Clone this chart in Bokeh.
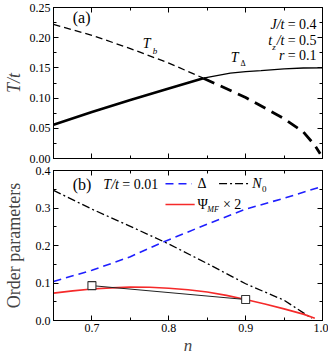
import numpy as np
from bokeh.plotting import figure
from bokeh.layouts import column
from bokeh.models import FixedTicker, LinearAxis, Range1d, Label, CustomLabelingPolicy
from bokeh.embed import file_html
from bokeh.resources import INLINE

# ---------------- data: panel (a) ----------------
n_tb = [0.65, 0.70, 0.75, 0.80, 0.845, 0.90, 0.95, 0.975, 0.99, 0.997]
t_b = [0.222, 0.204, 0.182, 0.158, 0.133, 0.101, 0.066, 0.044, 0.022, 0.008]
n_td = [0.65, 0.70, 0.75, 0.80, 0.845, 0.88, 0.90, 0.92, 0.95, 0.975, 1.0]
t_d = [0.056, 0.077, 0.097, 0.116, 0.133, 0.1414, 0.144, 0.1456, 0.1485, 0.1498, 0.150]
n_cross = 0.845

# ---------------- data: panel (b) ----------------
n_delta = [0.65, 0.70, 0.75, 0.79, 0.85, 0.90, 0.95, 1.0]
delta = [0.104, 0.134, 0.170, 0.207, 0.257, 0.297, 0.326, 0.358]
n_n0 = [0.65, 0.70, 0.75, 0.80, 0.85, 0.90, 0.95, 0.986]
n0 = [0.347, 0.297, 0.251, 0.204, 0.152, 0.098, 0.054, 0.006]
n_psi = [0.65, 0.675, 0.70, 0.725, 0.75, 0.775, 0.80, 0.825, 0.85, 0.875,
         0.90, 0.925, 0.95, 0.975, 0.99]
psi2 = [0.073, 0.079, 0.084, 0.087, 0.089, 0.0885, 0.086, 0.082, 0.076, 0.067,
        0.056, 0.044, 0.031, 0.017, 0.006]
n_sq = [0.70, 0.90]
psi_sq = [0.093, 0.056]

# ---------------- ticks ----------------
x_ticks = [0.7, 0.8, 0.9, 1.0]
x_tick_labels = ["0.7", "0.8", "0.9", "1.0"]
x_minor = [0.65, 0.75, 0.85, 0.95]
ya_ticks = [0.0, 0.05, 0.10, 0.15, 0.20, 0.25]
ya_tick_labels = ["0.00", "0.05", "0.10", "0.15", "0.20", "0.25"]
ya_minor = [0.025, 0.075, 0.125, 0.175, 0.225]
yb_ticks = [0.0, 0.1, 0.2, 0.3, 0.4]
yb_tick_labels = ["0.0", "0.1", "0.2", "0.3", "0.4"]
yb_minor = [0.05, 0.15, 0.25, 0.35]

FONT = "Liberation Serif"
W = 328
LEFT = 46
RIGHT = 6
NO_LABELS = "for (const i of Array.from(indices)) indices.unset(i); return indices"


def style_axis(ax, ticks, minor, labels=None):
    ax.ticker = FixedTicker(ticks=ticks, minor_ticks=minor)
    ax.axis_line_color = "black"
    ax.major_tick_line_color = "black"
    ax.minor_tick_line_color = "black"
    ax.major_tick_in = 5
    ax.major_tick_out = 0
    ax.minor_tick_in = 3
    ax.minor_tick_out = 0
    ax.major_label_text_font = FONT
    ax.axis_label_text_font = FONT
    if labels is None:
        ax.major_label_text_font_size = "0px"
        ax.major_label_standoff = 0
        ax.major_label_policy = CustomLabelingPolicy(code=NO_LABELS)
    else:
        ax.major_label_overrides = {t: l for t, l in zip(ticks, labels)}
        ax.major_label_text_font_size = "12px"
        ax.major_label_text_color = "black"
        ax.major_label_standoff = 3


def lab(p, x, y, text, size="14px", style="normal", align="left", baseline="middle"):
    p.add_layout(Label(x=x, y=y, text=text, text_font=FONT, text_font_size=size,
                       text_font_style=style, text_align=align,
                       text_baseline=baseline, text_color="black"))


def seg(xs, ys, lo, hi):
    pts = [(x, y) for x, y in zip(xs, ys) if lo <= x <= hi]
    return [q[0] for q in pts], [q[1] for q in pts]


# ================= panel (a) =================
p1 = figure(width=W, height=164, output_backend="svg", toolbar_location=None,
            x_range=Range1d(0.65, 1.0), y_range=Range1d(0.0, 0.25),
            min_border_left=LEFT, min_border_right=RIGHT,
            min_border_top=7, min_border_bottom=6)
p1.grid.visible = False
p1.outline_line_color = "black"
style_axis(p1.xaxis[0], x_ticks, x_minor)
style_axis(p1.yaxis[0], ya_ticks, ya_minor, ya_tick_labels)
p1.yaxis[0].axis_label = "T/t"
p1.yaxis[0].axis_label_text_font_style = "italic"
p1.yaxis[0].axis_label_text_font_size = "18px"
p1.yaxis[0].axis_label_standoff = 3
ax = LinearAxis(); style_axis(ax, x_ticks, x_minor); p1.add_layout(ax, "above")
ax = LinearAxis(); style_axis(ax, ya_ticks, ya_minor); p1.add_layout(ax, "right")

x, y = seg(n_tb, t_b, 0, n_cross)
p1.line(x, y, line_color="black", line_width=1.3, line_dash="7 4")
x, y = seg(n_tb, t_b, n_cross, 1.0)
p1.line(x, y, line_color="black", line_width=2.8, line_dash="12 7")
x, y = seg(n_td, t_d, 0, n_cross)
p1.line(x, y, line_color="black", line_width=2.6)
x, y = seg(n_td, t_d, n_cross, 1.0)
p1.line(x, y, line_color="black", line_width=1.3)

lab(p1, 0.675, 0.233, "(a)", size="16px")
lab(p1, 0.766, 0.19, "T", style="italic")
lab(p1, 0.779, 0.178, "b", size="9px", style="italic")
lab(p1, 0.8806, 0.168, "T", style="italic")
lab(p1, 0.8933, 0.157, "Δ", size="8px")
lab(p1, 0.9505, 0.2214, "J/t", style="italic", align="right")
lab(p1, 0.9547, 0.2214, "= 0.4")
lab(p1, 0.9505, 0.196, "/t", style="italic", align="right")
lab(p1, 0.9346, 0.196, "t", style="italic", align="right")
lab(p1, 0.9346, 0.185, "z", size="9px", style="italic")
lab(p1, 0.9547, 0.196, "= 0.5")
lab(p1, 0.9505, 0.171, "r", style="italic", align="right")
lab(p1, 0.9547, 0.171, "= 0.1")

# ================= panel (b) =================
p2 = figure(width=W, height=193, output_backend="svg", toolbar_location=None,
            x_range=Range1d(0.65, 1.0), y_range=Range1d(0.0, 0.4),
            min_border_left=LEFT, min_border_right=RIGHT,
            min_border_top=6, min_border_bottom=6)
p2.grid.visible = False
p2.outline_line_color = "black"
style_axis(p2.xaxis[0], x_ticks, x_minor, x_tick_labels)
style_axis(p2.yaxis[0], yb_ticks, yb_minor, yb_tick_labels)
p2.xaxis[0].axis_label = "n"
p2.xaxis[0].axis_label_text_font_style = "italic"
p2.xaxis[0].axis_label_text_font_size = "17px"
p2.xaxis[0].axis_label_standoff = 1
p2.yaxis[0].axis_label = "Order parameters"
p2.yaxis[0].axis_label_text_font_style = "normal"
p2.yaxis[0].axis_label_text_font_size = "18px"
p2.yaxis[0].axis_label_standoff = 9
ax = LinearAxis(); style_axis(ax, x_ticks, x_minor); p2.add_layout(ax, "above")
ax = LinearAxis(); style_axis(ax, yb_ticks, yb_minor); p2.add_layout(ax, "right")

BLUE = "#1f1fff"
RED = "#f52a2a"
p2.line(n_delta, delta, line_color=BLUE, line_width=1.6, line_dash="8 5")
p2.line(n_n0, n0, line_color="black", line_width=1.3, line_dash="8 3 2 3")
p2.line(n_psi, psi2, line_color=RED, line_width=1.6)
p2.line(n_sq, psi_sq, line_color="#222222", line_width=1.0)
p2.scatter(n_sq, psi_sq, marker="square", size=8, fill_color="white",
           line_color="#333333", line_width=1.1)

# legend
lab(p2, 0.675, 0.362, "(b)", size="16px")
lab(p2, 0.7351, 0.362, "T/t", style="italic", align="right")
lab(p2, 0.7396, 0.362, "= 0.01")
p2.line([0.7957, 0.830], [0.3648, 0.3648], line_color=BLUE, line_width=1.6, line_dash="8 5")
lab(p2, 0.8374, 0.3648, "Δ")
p2.line([0.8654, 0.906], [0.3648, 0.3648], line_color="black", line_width=1.3, line_dash="8 3 2 3")
lab(p2, 0.9086, 0.3648, "N", style="italic")
lab(p2, 0.9213, 0.351, "0", size="9px")
p2.line([0.7957, 0.8337], [0.3094, 0.3094], line_color=RED, line_width=1.6)
lab(p2, 0.8374, 0.3094, "Ψ")
lab(p2, 0.8501, 0.296, "MF", size="8px", style="italic")
lab(p2, 0.8705, 0.3094, "× 2")

layout = column(p1, p2)
open("out.html", "w").write(file_html(layout, INLINE))
